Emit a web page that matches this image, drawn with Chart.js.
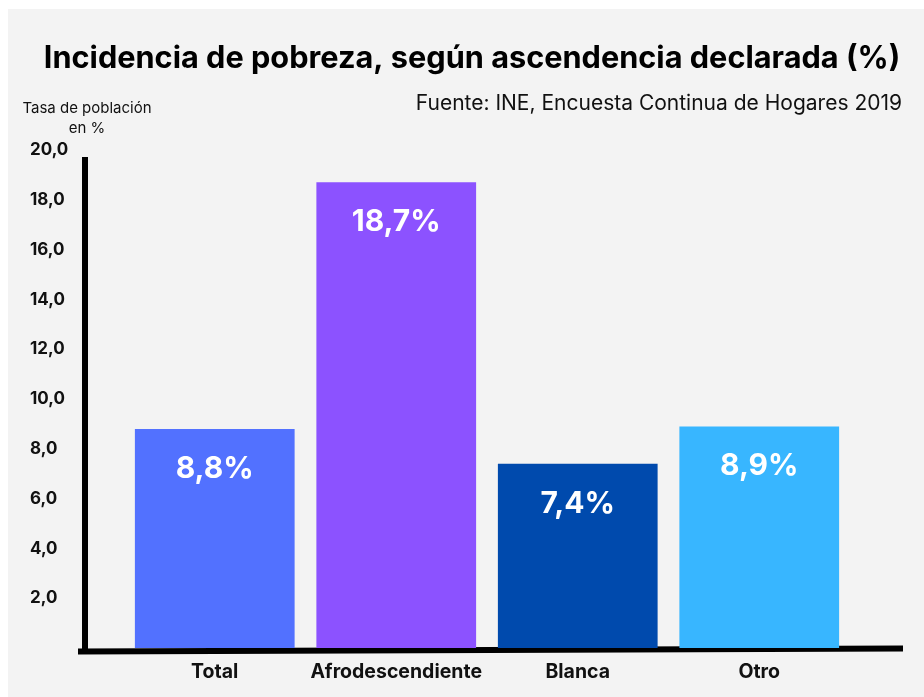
<!DOCTYPE html>
<html><head><meta charset="utf-8">
<script src="https://cdn.jsdelivr.net/npm/chart.js@4.4.0/dist/chart.umd.min.js"></script>
<style>html,body{margin:0;padding:0;background:#fff}#wrap{width:924px;height:697px;position:relative}</style>
</head><body><div id="wrap"><canvas id="c" width="924" height="697"></canvas></div>
<script>
const categories = ['Total', 'Afrodescendiente', 'Blanca', 'Otro'];
const values = [8.8, 18.7, 7.4, 8.9];
const valueLabels = ['8,8%', '18,7%', '7,4%', '8,9%'];
const barColors = ['#5271ff', '#8c52ff', '#004aad', '#38b6ff'];
const yTicks = [2, 4, 6, 8, 10, 12, 14, 16, 18, 20];
const titleText = 'Incidencia de pobreza, según ascendencia declarada (%)';
const sourceText = 'Fuente: INE, Encuesta Continua de Hogares 2019';
const yTitleLines = ['Tasa de población', 'en %'];

const FONT = 'Inter, "Open Sans", sans-serif';

const decor = {
  id: 'decor',
  beforeDraw(chart) {
    const ctx = chart.ctx;
    ctx.save();
    ctx.fillStyle = '#ffffff';
    ctx.fillRect(0, 0, chart.width, chart.height);
    ctx.fillStyle = '#f3f3f3';
    ctx.fillRect(8, 9, chart.width - 8, chart.height - 9);
    ctx.fillStyle = '#000';
    ctx.textBaseline = 'middle';
    ctx.textAlign = 'center';
    ctx.font = '700 30.7px ' + FONT;
    ctx.fillText(titleText, 472, 59);
    ctx.textAlign = 'right';
    ctx.font = '400 21px ' + FONT;
    ctx.fillStyle = '#111';
    ctx.fillText(sourceText, 902, 104);
    ctx.textAlign = 'center';
    ctx.font = '400 15px ' + FONT;
    ctx.fillText(yTitleLines[0], 87, 108);
    ctx.fillText(yTitleLines[1], 87, 128);
    ctx.restore();
  },
  beforeDatasetsDraw(chart) {
    const ctx = chart.ctx;
    const y = chart.scales.y;
    const base = y.getPixelForValue(0);
    ctx.save();
    ctx.strokeStyle = '#000';
    ctx.lineWidth = 6;
    ctx.lineCap = 'butt';
    ctx.beginPath();
    ctx.moveTo(85, y.getPixelForValue(20) + 7);
    ctx.lineTo(85, base + 5);
    ctx.stroke();
    ctx.beginPath();
    ctx.moveTo(78, base + 3.5);
    ctx.lineTo(903, base + 0.5);
    ctx.stroke();
    ctx.restore();
  },
  afterDatasetsDraw(chart) {
    const ctx = chart.ctx;
    const meta = chart.getDatasetMeta(0);
    ctx.save();
    ctx.fillStyle = '#fff';
    ctx.font = '700 30px ' + FONT;
    ctx.textAlign = 'center';
    ctx.textBaseline = 'middle';
    meta.data.forEach((bar, i) => {
      ctx.fillText(valueLabels[i], bar.x, bar.y + 40);
    });
    ctx.restore();
  }
};

new Chart(document.getElementById('c'), {
  type: 'bar',
  data: {
    labels: categories,
    datasets: [{
      data: values,
      backgroundColor: barColors,
      borderWidth: 0,
      barPercentage: 0.88,
      categoryPercentage: 1
    }]
  },
  options: {
    responsive: false,
    animation: false,
    layout: { padding: { top: 150, bottom: 0.6, left: 30, right: 74 } },
    plugins: { legend: { display: false }, tooltip: { enabled: false }, title: { display: false } },
    scales: {
      x: {
        grid: { display: false, drawTicks: false },
        border: { display: false },
        ticks: {
          color: '#111', font: { family: FONT, size: 19.5, weight: '700' }, padding: 12.5,
          minRotation: 0, maxRotation: 0, autoSkip: false
        }
      },
      y: {
        min: 0, max: 20,
        afterFit(scale) { scale.width = 94; },
        afterBuildTicks(scale) { scale.ticks = yTicks.map(v => ({ value: v })); },
        grid: { display: false, drawTicks: false },
        border: { display: false },
        ticks: {
          color: '#111', padding: 0, crossAlign: 'far',
          font: { family: FONT, size: 17, weight: '700' },
          callback: v => v.toFixed(1).replace('.', ',')
        }
      }
    }
  },
  plugins: [decor]
});
</script></body></html>
